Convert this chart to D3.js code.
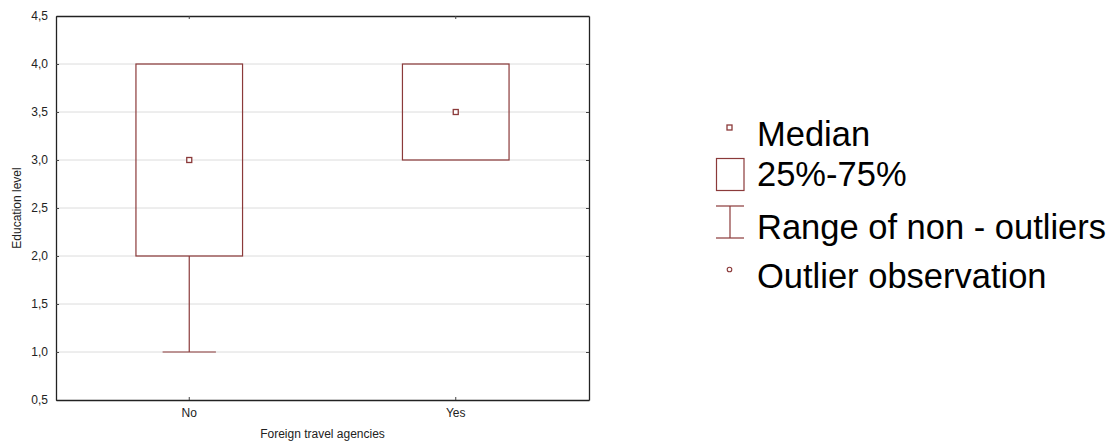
<!DOCTYPE html>
<html>
<head>
<meta charset="utf-8">
<script src="https://cdn.jsdelivr.net/npm/d3@7"></script>
<style>
html,body{margin:0;padding:0;background:#fff;}
svg{display:block;font-family:"Liberation Sans",Arial,sans-serif;}
</style>
</head>
<body>
<svg id="chart" width="1110" height="443"></svg>
<script>
// Data
const categories = ["No", "Yes"];
const q1Values = [2.0, 3.0];
const q3Values = [4.0, 4.0];
const medianValues = [3.0, 3.5];
const minValues = [1.0, 3.0];
const maxValues = [4.0, 4.0];
const yTicks = [0.5, 1.0, 1.5, 2.0, 2.5, 3.0, 3.5, 4.0, 4.5];
const legendLabels = ["Median", "25%-75%", "Range of non - outliers", "Outlier observation"];
const xTitle = "Foreign travel agencies";
const yTitle = "Education level";

const color = "#8b3a3a";
const svg = d3.select("#chart");
const m = {left: 56, top: 16, right: 589, bottom: 400};

const x = d3.scaleBand().domain(categories).range([m.left, m.right]).paddingInner(0).paddingOuter(0);
const y = d3.scaleLinear().domain([0.5, 4.5]).range([m.bottom, m.top]);
const fmt = d => d3.format(".1f")(d).replace(".", ",");

// grid
svg.append("g").selectAll("line").data(yTicks.filter(d => d > 0.5 && d < 4.5)).join("line")
  .attr("x1", m.left).attr("x2", m.right)
  .attr("y1", d => y(d)).attr("y2", d => y(d))
  .attr("stroke", "#dcdcdc").attr("stroke-width", 1);

// axes
const axL = svg.append("g").attr("transform", `translate(${m.left},0)`)
  .call(d3.axisLeft(y).tickValues(yTicks).tickFormat(fmt).tickSizeInner(-3).tickSizeOuter(0).tickPadding(8));
const axR = svg.append("g").attr("transform", `translate(${m.right},0)`)
  .call(d3.axisRight(y).tickValues(yTicks).tickFormat("").tickSizeInner(-3).tickSizeOuter(0));
const axB = svg.append("g").attr("transform", `translate(0,${m.bottom})`)
  .call(d3.axisBottom(x).tickSizeInner(-3).tickSizeOuter(0).tickPadding(8));
const axT = svg.append("g").attr("transform", `translate(0,${m.top})`)
  .call(d3.axisTop(x).tickFormat("").tickSizeInner(-3).tickSizeOuter(0));
[axL, axR, axB, axT].forEach(a => {
  a.select(".domain").attr("stroke", "#222").attr("stroke-width", 1.3);
  a.selectAll(".tick line").attr("stroke", "#444");
  a.selectAll(".tick text").attr("fill", "#222").style("font-size", "12px").style("font-family", "Liberation Sans, Arial, sans-serif");
});

// boxes
const bw = x.bandwidth() * 0.4;
const cw = bw / 2;
const g = svg.append("g");
categories.forEach((c, i) => {
  const cx = x(c) + x.bandwidth() / 2;
  // whisker
  if (minValues[i] < q1Values[i]) {
    g.append("line").attr("x1", cx).attr("x2", cx).attr("y1", y(q1Values[i])).attr("y2", y(minValues[i]))
      .attr("stroke", color).attr("stroke-width", 1.2);
    g.append("line").attr("x1", cx - cw / 2).attr("x2", cx + cw / 2).attr("y1", y(minValues[i])).attr("y2", y(minValues[i]))
      .attr("stroke", color).attr("stroke-width", 1.2);
  }
  if (maxValues[i] > q3Values[i]) {
    g.append("line").attr("x1", cx).attr("x2", cx).attr("y1", y(q3Values[i])).attr("y2", y(maxValues[i]))
      .attr("stroke", color).attr("stroke-width", 1.2);
    g.append("line").attr("x1", cx - cw / 2).attr("x2", cx + cw / 2).attr("y1", y(maxValues[i])).attr("y2", y(maxValues[i]))
      .attr("stroke", color).attr("stroke-width", 1.2);
  }
  g.append("rect").attr("x", cx - bw / 2).attr("width", bw)
    .attr("y", y(q3Values[i])).attr("height", y(q1Values[i]) - y(q3Values[i]))
    .attr("fill", "none").attr("stroke", color).attr("stroke-width", 1.2);
  g.append("rect").attr("x", cx - 2.5).attr("y", y(medianValues[i]) - 2.5).attr("width", 5).attr("height", 5)
    .attr("fill", "#fff").attr("stroke", color).attr("stroke-width", 1.3);
});

// axis titles
svg.append("text").attr("x", (m.left + m.right) / 2).attr("y", 438).attr("text-anchor", "middle")
  .style("font-size", "12px").attr("fill", "#222").text(xTitle);
svg.append("text").attr("transform", `translate(21,${(m.top + m.bottom) / 2}) rotate(-90)`).attr("text-anchor", "middle")
  .style("font-size", "12px").attr("fill", "#222").text(yTitle);

// legend
const lg = svg.append("g");
const lx = 757, fs = 34.5;
const baselines = [146, 186, 239, 288];
lg.selectAll("text").data(legendLabels).join("text")
  .attr("x", lx).attr("y", (d, i) => baselines[i])
  .style("font-size", fs + "px").attr("fill", "#000").text(d => d);
lg.append("rect").attr("x", 727).attr("y", 125).attr("width", 5).attr("height", 5)
  .attr("fill", "#fff").attr("stroke", color).attr("stroke-width", 1.3);
lg.append("rect").attr("x", 716.5).attr("y", 158.5).attr("width", 27.5).attr("height", 32)
  .attr("fill", "none").attr("stroke", color).attr("stroke-width", 1.2);
lg.append("line").attr("x1", 716).attr("x2", 744).attr("y1", 206).attr("y2", 206).attr("stroke", color).attr("stroke-width", 1.2);
lg.append("line").attr("x1", 716).attr("x2", 744).attr("y1", 238).attr("y2", 238).attr("stroke", color).attr("stroke-width", 1.2);
lg.append("line").attr("x1", 730).attr("x2", 730).attr("y1", 206).attr("y2", 238).attr("stroke", color).attr("stroke-width", 1.2);
lg.append("circle").attr("cx", 729.5).attr("cy", 269.5).attr("r", 2.3)
  .attr("fill", "#fff").attr("stroke", color).attr("stroke-width", 1.1);
</script>
</body>
</html>
